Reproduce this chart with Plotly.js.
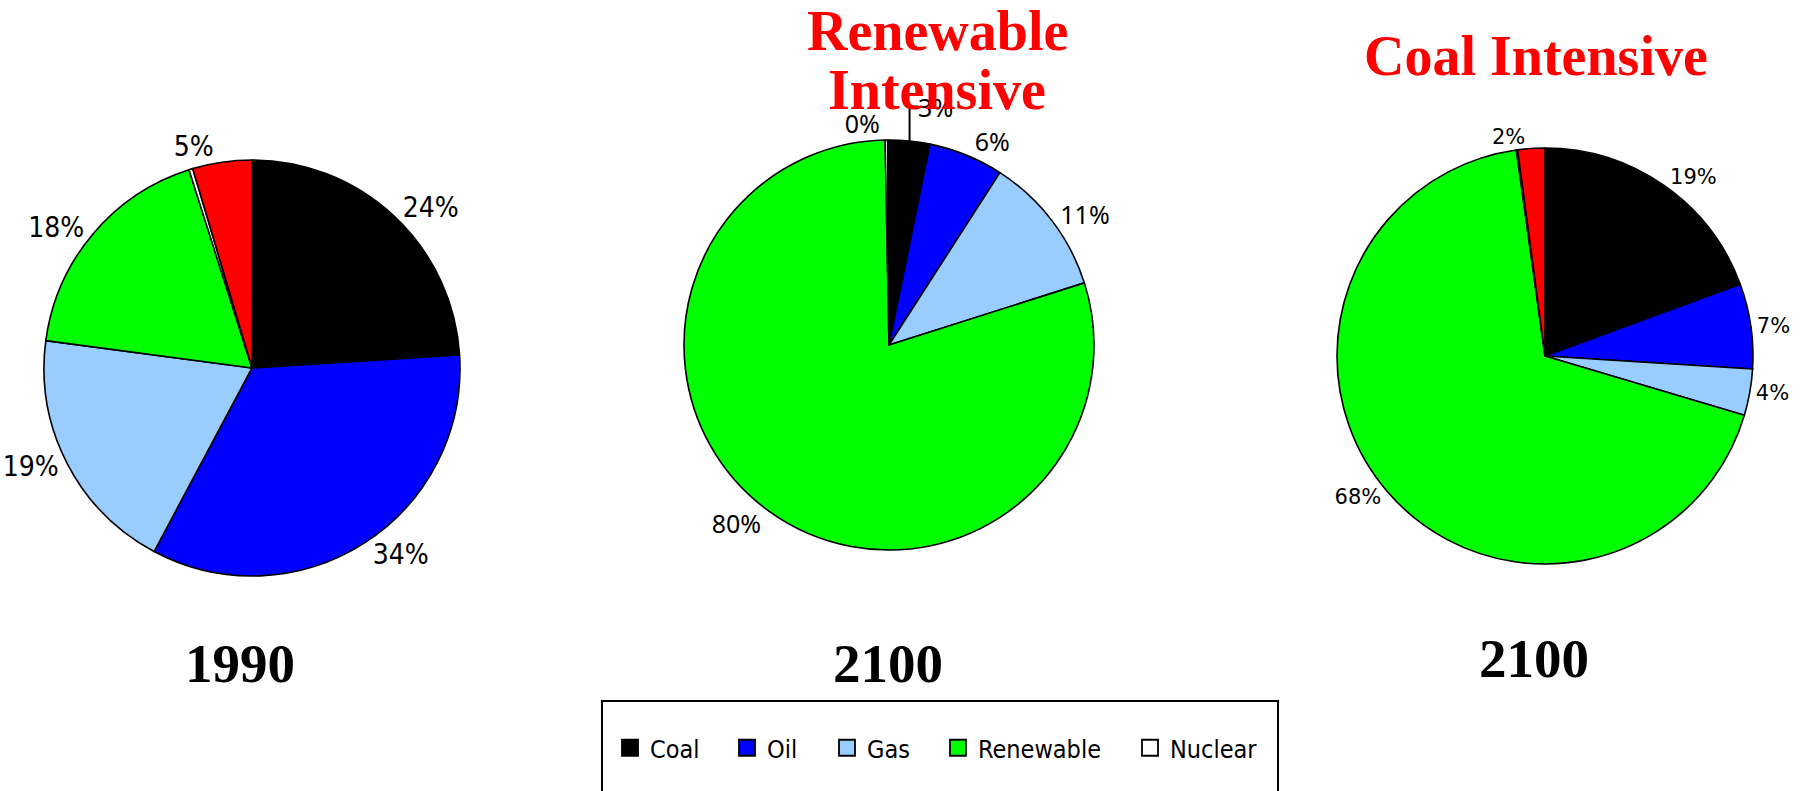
<!DOCTYPE html>
<html>
<head>
<meta charset="utf-8">
<script src="https://cdn.plot.ly/plotly-3.0.1.min.js"></script>
<style>
  html, body { margin: 0; padding: 0; background: #ffffff; }
  #chart { width: 1809px; height: 791px; }
</style>
</head>
<body>
<div id="chart"></div>
<script>
// ---- data ----
const categories = ['Coal', 'Oil', 'Gas', 'Renewable', 'Nuclear', 'Other'];
const legendCategories = ['Coal', 'Oil', 'Gas', 'Renewable', 'Nuclear'];
const values1990 = [24.0, 33.8, 19.3, 18.0, 0.3, 4.6];
const values2100Renewable = [3.2, 5.9, 11.0, 79.6, 0.2, 0.1];
const values2100Coal = [19.4, 6.6, 3.6, 68.2, 0.1, 2.1];
const pieYears = ['1990', '2100', '2100'];
const scenarioTitles = [null, ['Renewable', 'Intensive'], ['Coal Intensive']];

// ---- style ----
const sliceColors = ['#000000', '#0000FF', '#99CCFF', '#00FF00', '#FFFFFF', '#FF0000'];
const W = 1809, H = 791;
const pct = '%{percent:.0%}';
const labelTemplate = categories.map(c => c === 'Nuclear' ? '' : pct);
const narrow = '"DejaVu Sans Condensed", "Liberation Sans Narrow", "Arial Narrow", sans-serif';

function dom(cx, cy, r) {
  return { x: [(cx - r) / W, (cx + r) / W], y: [(H - cy - r) / H, (H - cy + r) / H] };
}

function pie(values, domain, font) {
  return {
    type: 'pie',
    labels: categories,
    values: values,
    sort: false,
    direction: 'clockwise',
    rotation: 0,
    domain: domain,
    marker: { colors: sliceColors, line: { color: '#000000', width: 1.6 } },
    textposition: 'outside',
    textinfo: 'none',
    texttemplate: labelTemplate,
    textfont: font,
    showlegend: false,
    automargin: false,
    hoverinfo: 'label+percent'
  };
}

const traces = [
  pie(values1990, dom(252, 368, 208), { family: narrow, size: 28, color: '#000' }),
  pie(values2100Renewable, dom(889, 345, 205), { family: '"Noto Sans", sans-serif', size: 25, color: '#000' }),
  pie(values2100Coal, dom(1545, 356, 208), { family: '"DejaVu Sans", sans-serif', size: 21, color: '#000' })
];

// legend entries (one per energy source, each in its own legend box)
const legendCenters = [635, 752, 852, 963, 1155];
legendCategories.forEach((name, i) => {
  traces.push({
    type: 'scatter',
    mode: 'markers',
    x: [null], y: [null],
    name: name,
    legend: i === 0 ? 'legend' : 'legend' + (i + 1),
    marker: { symbol: 'square', size: 16, color: sliceColors[categories.indexOf(name)],
              line: { color: '#000000', width: 1.8 } },
    showlegend: true,
    hoverinfo: 'skip'
  });
});

const layout = {
  width: W, height: H,
  margin: { l: 0, r: 0, t: 0, b: 0 },
  paper_bgcolor: '#ffffff',
  plot_bgcolor: 'rgba(0,0,0,0)',
  xaxis: { visible: false },
  yaxis: { visible: false },
  showlegend: true,
  annotations: [],
  shapes: [{
    type: 'rect', xref: 'paper', yref: 'paper',
    x0: 602 / W, x1: 1278 / W, y0: -0.2, y1: 1 - 701 / H,
    line: { color: '#000000', width: 2 }, fillcolor: 'rgba(0,0,0,0)'
  }]
};

legendCenters.forEach((cx, i) => {
  const key = i === 0 ? 'legend' : 'legend' + (i + 1);
  layout[key] = {
    x: (cx - 25) / W, xanchor: 'left',
    y: 1 - 748 / H, yanchor: 'middle',
    orientation: 'h',
    bgcolor: 'rgba(0,0,0,0)',
    borderwidth: 0,
    itemsizing: 'trace',
    font: { family: narrow, size: 25, color: '#000' }
  };
});

// year labels under each pie
const yearPos = [[240, 663], [888, 663], [1534, 658]];
pieYears.forEach((yr, i) => {
  layout.annotations.push({
    text: yr, xref: 'paper', yref: 'paper',
    x: yearPos[i][0] / W, y: 1 - yearPos[i][1] / H,
    xanchor: 'center', yanchor: 'middle', showarrow: false,
    font: { family: 'Liberation Serif', size: 55, color: '#000', weight: 'bold' }
  });
});

// scenario titles in red
const titlePos = [null, [[937, 31], [937, 90]], [[1536, 56]]];
scenarioTitles.forEach((lines, i) => {
  if (!lines) return;
  lines.forEach((t, j) => {
    layout.annotations.push({
      text: t, xref: 'paper', yref: 'paper',
      x: titlePos[i][j][0] / W, y: 1 - titlePos[i][j][1] / H,
      xanchor: 'center', yanchor: 'middle', showarrow: false,
      font: { family: 'Liberation Serif', size: 56, color: '#FF0000', weight: 'bold' }
    });
  });
});

Plotly.newPlot('chart', traces, layout, { staticPlot: true, displayModeBar: false });
</script>
</body>
</html>
